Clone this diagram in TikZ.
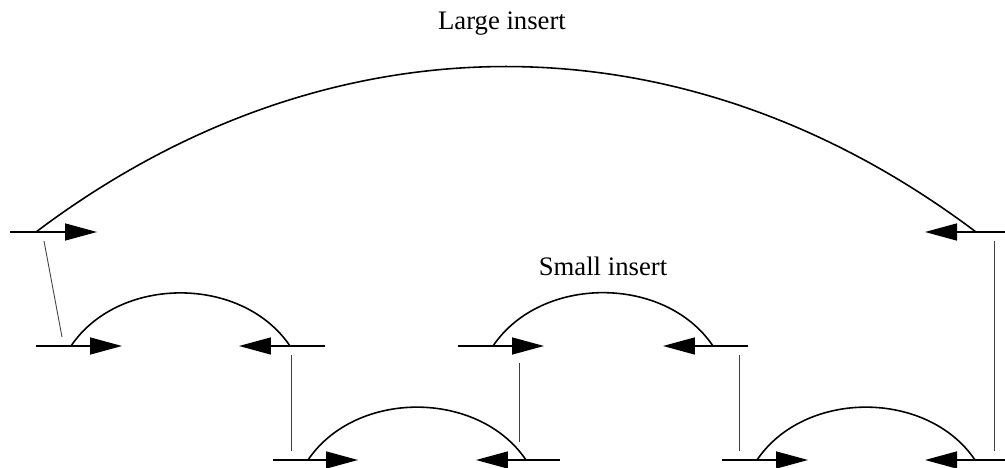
\documentclass[tikz,border=0pt]{standalone}
\usepackage{fontspec}
\setmainfont{Liberation Serif}
\usetikzlibrary{arrows.meta}

\begin{document}
\begin{tikzpicture}[
  x=0.02cm, y=0.02cm, line width=0.9pt,
  arr/.style={-{Triangle[length=0.64cm,width=0.34cm]}},
  link/.style={line width=0.5pt,black!75},
  txt/.style={font=\fontsize{15.2}{18}\selectfont,anchor=base}
]
  \useasboundingbox (0,0) rectangle (1005,467);
  % large insert
  \coordinate (g0) at (10,235);
  \coordinate (g1) at (36,235);
  \coordinate (g2) at (97,235);
  \coordinate (g3) at (925,235);
  \coordinate (g4) at (976,235);
  \coordinate (g5) at (1005,235);
  % small inserts, middle row
  \coordinate (a0) at (36,121);
  \coordinate (a1) at (71,121);
  \coordinate (a2) at (122,121);
  \coordinate (a3) at (239,121);
  \coordinate (a4) at (290,121);
  \coordinate (a5) at (325,121);
  \coordinate (b0) at (458,121);
  \coordinate (b1) at (493,121);
  \coordinate (b2) at (544,121);
  \coordinate (b3) at (663,121);
  \coordinate (b4) at (713,121);
  \coordinate (b5) at (748,121);
  % small inserts, bottom row
  \coordinate (c0) at (273,7);
  \coordinate (c1) at (308,7);
  \coordinate (c2) at (358,7);
  \coordinate (c3) at (476,7);
  \coordinate (c4) at (526,7);
  \coordinate (c5) at (560,7);
  \coordinate (d0) at (722,7);
  \coordinate (d1) at (757,7);
  \coordinate (d2) at (808,7);
  \coordinate (d3) at (925,7);
  \coordinate (d4) at (975,7);
  \coordinate (d5) at (1005,7);
  % ends of the thin links
  \coordinate (s0) at (44,226);
  \coordinate (s1) at (62,130);
  \coordinate (s2) at (291,112);
  \coordinate (s3) at (291,16);
  \coordinate (s4) at (519,104);
  \coordinate (s5) at (519,25);
  \coordinate (s6) at (739,112);
  \coordinate (s7) at (739,16);
  \coordinate (s8) at (994,226);
  \coordinate (s9) at (994,16);

  \node[txt] (tl) at (502,437) {Large insert};
  \node[txt] (ts) at (603,191) {Small insert};

  \draw[arr] (g0) -- (g2);
  \draw[arr] (g5) -- (g3);
  \draw (g1) to[bend left=37] (g4);
  \draw[arr] (a0) -- (a2);
  \draw[arr] (a5) -- (a3);
  \draw (a1) to[bend left=56] (a4);
  \draw[arr] (b0) -- (b2);
  \draw[arr] (b5) -- (b3);
  \draw (b1) to[bend left=56] (b4);
  \draw[arr] (c0) -- (c2);
  \draw[arr] (c5) -- (c3);
  \draw (c1) to[bend left=56] (c4);
  \draw[arr] (d0) -- (d2);
  \draw[arr] (d5) -- (d3);
  \draw (d1) to[bend left=56] (d4);

  \draw[link] (s0) -- (s1);
  \draw[link] (s2) -- (s3);
  \draw[link] (s4) -- (s5);
  \draw[link] (s6) -- (s7);
  \draw[link] (s8) -- (s9);
\end{tikzpicture}
\end{document}
